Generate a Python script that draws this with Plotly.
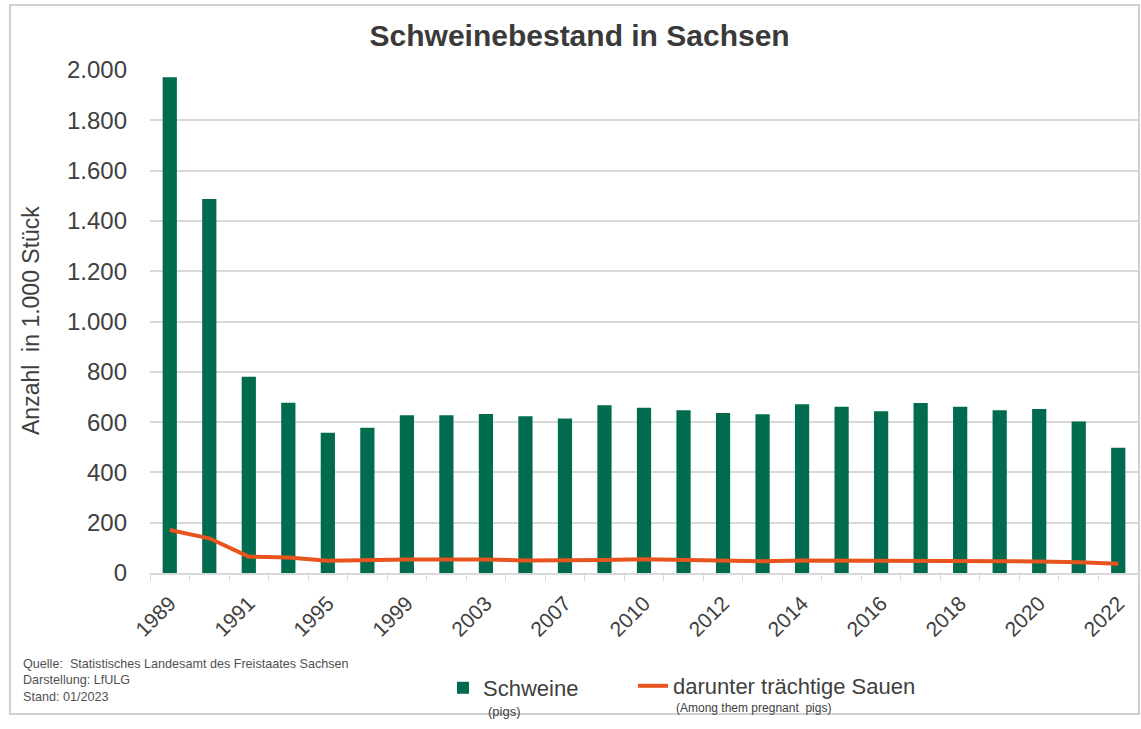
import plotly.graph_objects as go

years = ["1989", "1990", "1991", "1993", "1995", "1997", "1999", "2001", "2003", "2005",
         "2007", "2008", "2010", "2011", "2012", "2013", "2014", "2015", "2016", "2017",
         "2018", "2019", "2020", "2021", "2022"]
schweine = [1971, 1487, 780, 677, 558, 578, 627, 627, 632, 623,
            614, 667, 657, 647, 636, 631, 671, 661, 643, 676,
            661, 647, 652, 602, 498]
sauen = [171, 138, 65, 62, 49, 52, 54, 54, 54, 50,
         50, 52, 55, 52, 50, 47, 50, 50, 50, 46,
         46, 46, 46, 43, 37]
tick_labels = ["1989", "", "1991", "", "1995", "", "1999", "", "2003", "", "2007", "",
               "2010", "", "2012", "", "2014", "", "2016", "", "2018", "", "2020", "", "2022"]
y_ticks = [0, 200, 400, 600, 800, 1000, 1200, 1400, 1600, 1800, 2000]
y_tick_text = ["0", "200", "400", "600", "800", "1.000", "1.200", "1.400", "1.600", "1.800", "2.000"]

W, H = 1141, 729
L, R, T, B = 150, 3, 70, 156
pw, ph = W - L - R, H - T - B

def px(x):
    return (x - L) / pw

def py(y):
    return (H - B - y) / ph

FONT = "Liberation Sans, Arial, sans-serif"
GREEN = "#006B4E"
ORANGE = "#E8541E"
TXT = "#404040"

fig = go.Figure()
fig.add_trace(go.Bar(
    x=years, y=schweine, width=0.36, marker=dict(color=GREEN, line=dict(width=0)),
    name="Schweine", legend="legend",
))
fig.add_trace(go.Scatter(
    x=years, y=sauen, mode="lines", line=dict(color=ORANGE, width=4),
    name="darunter trächtige Sauen", legend="legend2",
))

leg_common = dict(orientation="h", xanchor="left", yanchor="top",
                  font=dict(size=22, color=TXT, family=FONT), valign="middle",
                  bgcolor="rgba(0,0,0,0)")

fig.update_layout(
    width=W, height=H,
    margin=dict(l=L, r=R, t=T, b=B),
    paper_bgcolor="white", plot_bgcolor="white",
    font=dict(family=FONT, color=TXT),
    title=dict(text="<b>Schweinebestand in Sachsen</b>", xref="container", yref="container",
               x=0.508, y=1 - 35 / H, xanchor="center", yanchor="middle",
               font=dict(size=30, color="#3a3a3a", family=FONT)),
    showlegend=True,
    legend=dict(x=px(443), y=py(667), **leg_common),
    legend2=dict(x=px(633), y=py(665), **leg_common),
)
fig.update_xaxes(
    type="category", tickmode="array", tickvals=years, ticktext=tick_labels,
    tickangle=-45, tickfont=dict(size=21, color=TXT), ticklabelstandoff=8,
    showline=True, linecolor="#D9D9D9", linewidth=1.5,
    ticks="outside", tickson="boundaries", ticklen=6, tickcolor="#D9D9D9",
    showgrid=False,
)
fig.update_yaxes(
    range=[0, 2000], tickmode="array", tickvals=y_ticks, ticktext=y_tick_text,
    tickfont=dict(size=24, color=TXT), showgrid=True, gridcolor="#D9D9D9", gridwidth=1.8,
    showline=False, zeroline=False, ticks="", ticklabelstandoff=22,
)

fig.add_annotation(
    text="Anzahl  in 1.000 Stück", xref="paper", yref="paper", x=px(31), y=py(321),
    textangle=-90, showarrow=False, font=dict(size=23, color=TXT),
    xanchor="center", yanchor="middle",
)
fig.add_annotation(
    text="(pigs)", xref="paper", yref="paper", x=px(486), y=py(711),
    xanchor="left", yanchor="middle", showarrow=False, font=dict(size=13, color=TXT),
)
fig.add_annotation(
    text="(Among them pregnant  pigs)", xref="paper", yref="paper", x=px(674), y=py(708),
    xanchor="left", yanchor="middle", showarrow=False, font=dict(size=12, color=TXT),
)
fig.add_annotation(
    text="Quelle:  Statistisches Landesamt des Freistaates Sachsen<br>Darstellung: LfULG<br>Stand: 01/2023",
    xref="paper", yref="paper", x=px(21), y=py(655), xanchor="left", yanchor="top",
    align="left", showarrow=False, font=dict(size=12.6, color="#505050"),
)
fig.add_shape(
    type="rect", xref="paper", yref="paper",
    x0=px(10), x1=px(1139), y0=py(714), y1=py(5),
    line=dict(color="#D0D0D0", width=2), fillcolor="rgba(0,0,0,0)", layer="below",
)

fig.write_html("out.html", config={"displayModeBar": False},
               post_script="document.body.style.margin='0';")
